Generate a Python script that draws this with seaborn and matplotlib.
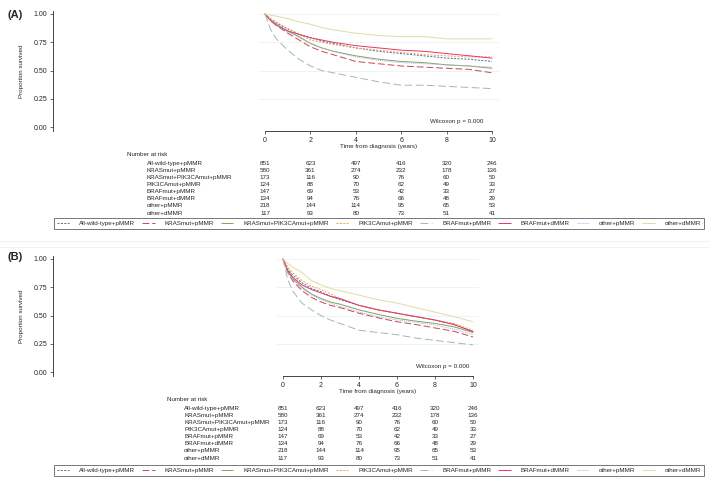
import numpy as np
import pandas as pd
import seaborn as sns
import matplotlib.pyplot as plt
from matplotlib.lines import Line2D

# groups and styles
groups = ["All-wild-type+pMMR", "KRASmut+pMMR", "KRASmut+PIK3CAmut+pMMR", "PIK3CAmut+pMMR",
          "BRAFmut+pMMR", "BRAFmut+dMMR", "other+pMMR", "other+dMMR"]
colors = ["#3f6fae", "#c9474f", "#7ea35c", "#f1a23a", "#9fbab2", "#e8346a", "#b3aee6", "#e3daa2"]
dash_styles = [(2, 1.5), (7, 3), "", (2, 1.5), (8, 3.5), "", (1, 1), ""]

# readings of the curves (years, proportion survived)
times = [0, 0.25, 0.5, 1, 1.5, 2, 2.5, 3, 4, 5, 6, 7, 8, 9, 10]

a_wild = [1, 0.95, 0.92, 0.87, 0.82, 0.79, 0.76, 0.74, 0.70, 0.67, 0.65, 0.63, 0.61, 0.60, 0.58]
a_kras = [1, 0.94, 0.90, 0.83, 0.77, 0.71, 0.67, 0.64, 0.58, 0.56, 0.54, 0.53, 0.52, 0.51, 0.48]
a_kras_pik = [1, 0.95, 0.91, 0.85, 0.80, 0.74, 0.70, 0.67, 0.63, 0.60, 0.58, 0.57, 0.55, 0.54, 0.52]
a_pik = [1, 0.96, 0.93, 0.87, 0.82, 0.77, 0.75, 0.73, 0.70, 0.68, 0.66, 0.64, 0.63, 0.62, 0.62]
a_braf_p = [1, 0.86, 0.78, 0.68, 0.60, 0.54, 0.50, 0.48, 0.44, 0.40, 0.37, 0.37, 0.36, 0.35, 0.34]
a_braf_d = [1, 0.94, 0.90, 0.85, 0.82, 0.79, 0.77, 0.75, 0.72, 0.70, 0.68, 0.67, 0.65, 0.63, 0.61]
a_other_p = [1, 0.95, 0.91, 0.84, 0.79, 0.74, 0.70, 0.67, 0.62, 0.59, 0.57, 0.56, 0.55, 0.54, 0.53]
a_other_d = [1, 0.99, 0.98, 0.96, 0.93, 0.91, 0.88, 0.86, 0.83, 0.81, 0.80, 0.80, 0.78, 0.78, 0.78]

b_wild = [1, 0.91, 0.86, 0.79, 0.74, 0.71, 0.67, 0.64, 0.59, 0.55, 0.52, 0.49, 0.46, 0.42, 0.36]
b_kras = [1, 0.88, 0.81, 0.72, 0.66, 0.62, 0.59, 0.57, 0.52, 0.48, 0.445, 0.42, 0.39, 0.36, 0.31]
b_kras_pik = [1, 0.89, 0.83, 0.75, 0.69, 0.65, 0.62, 0.60, 0.55, 0.51, 0.475, 0.45, 0.43, 0.40, 0.35]
b_pik = [1, 0.93, 0.88, 0.81, 0.76, 0.73, 0.69, 0.65, 0.59, 0.55, 0.52, 0.49, 0.46, 0.43, 0.37]
b_braf_p = [1, 0.82, 0.72, 0.61, 0.55, 0.50, 0.46, 0.43, 0.37, 0.35, 0.33, 0.30, 0.28, 0.26, 0.24]
b_braf_d = [1, 0.90, 0.84, 0.77, 0.73, 0.70, 0.67, 0.65, 0.59, 0.55, 0.52, 0.49, 0.46, 0.42, 0.357]
b_other_p = [1, 0.88, 0.82, 0.74, 0.68, 0.64, 0.61, 0.58, 0.53, 0.49, 0.46, 0.44, 0.415, 0.38, 0.33]
b_other_d = [1, 0.96, 0.93, 0.88, 0.81, 0.77, 0.74, 0.72, 0.68, 0.64, 0.61, 0.57, 0.53, 0.49, 0.445]

# number at risk table
risk_times = [0, 2, 4, 6, 8, 10]
risk_wild = [851, 623, 497, 416, 320, 246]
risk_kras = [580, 361, 274, 232, 178, 136]
risk_kras_pik = [173, 116, 90, 76, 60, 50]
risk_pik = [124, 88, 70, 62, 49, 33]
risk_braf_p = [147, 69, 53, 42, 33, 27]
risk_braf_d = [134, 94, 76, 66, 48, 29]
risk_other_p = [218, 144, 114, 95, 65, 53]
risk_other_d = [117, 93, 80, 73, 51, 41]
risk_rows = [risk_wild, risk_kras, risk_kras_pik, risk_pik, risk_braf_p, risk_braf_d, risk_other_p, risk_other_d]

surv_a = [a_wild, a_kras, a_kras_pik, a_pik, a_braf_p, a_braf_d, a_other_p, a_other_d]
surv_b = [b_wild, b_kras, b_kras_pik, b_pik, b_braf_p, b_braf_d, b_other_p, b_other_d]

sns.set_style("ticks")
plt.rcParams['font.family'] = ['Liberation Sans', 'DejaVu Sans']
fs = 4.5

W, H = 709, 488
fig = plt.figure(figsize=(W / 100, H / 100), dpi=100)


def make_df(surv):
    rows = []
    for g, vals in zip(groups, surv):
        for t, v in zip(times, vals):
            rows.append({"time": t, "surv": v, "group": g})
    return pd.DataFrame(rows)


def draw_panel(ax, surv, xmin, wil_x):
    for yv in [0.25, 0.5, 0.75, 1.0]:
        ax.plot([-0.3, 10.3], [yv, yv], color="#eef1f1", lw=0.6, zorder=0)
    df = make_df(surv)
    sns.lineplot(data=df, x="time", y="surv", hue="group", style="group",
                 palette=dict(zip(groups, colors)), dashes=dict(zip(groups, dash_styles)),
                 hue_order=groups, style_order=groups, linewidth=0.7, legend=False, ax=ax)
    ax.set_xlim(xmin, 10.3)
    ax.set_ylim(-0.035, 1.03)
    ax.set_xticks([0, 2, 4, 6, 8, 10])
    ax.set_yticks([0, 0.25, 0.5, 0.75, 1.0])
    ax.set_yticklabels(["0.00", "0.25", "0.50", "0.75", "1.00"])
    ax.tick_params(labelsize=5, length=2.5, width=0.5, pad=1.5, color="#333333")
    ax.spines["top"].set_visible(False)
    ax.spines["right"].set_visible(False)
    ax.spines["bottom"].set_bounds(0, 10)
    ax.spines["left"].set_linewidth(0.6)
    ax.spines["bottom"].set_linewidth(0.6)
    ax.set_xlabel("")
    ax.set_ylabel("Proportion survived", fontsize=fs, labelpad=7)
    tr = ax.get_xaxis_transform()
    ax.text(5, -0.125, "Time from diagnosis (years)", transform=tr, ha="center", va="center", fontsize=fs)
    ax.text(wil_x, 0.05, "Wilcoxon p = 0.000", ha="right", va="center", fontsize=fs)
    ax.text(-6.1, -0.199, "Number at risk", transform=tr, ha="left", va="center", fontsize=fs, clip_on=False)
    for i, (g, r) in enumerate(zip(groups, risk_rows)):
        yy = -0.266 - i * 0.0593
        ax.text(-5.2, yy, g, transform=tr, ha="left", va="center", fontsize=fs, clip_on=False)
        for t, n in zip(risk_times, r):
            ax.text(t, yy, str(n), transform=tr, ha="center", va="center", fontsize=fs, clip_on=False)


ax_a = fig.add_axes([53 / W, 1 - 131 / H, 445.8 / W, 120.4 / H])
draw_panel(ax_a, surv_a, -9.34, 9.6)
ax_b = fig.add_axes([53 / W, 1 - 376 / H, 425.7 / W, 120.4 / H])
draw_panel(ax_b, surv_b, -12.1, 9.8)

fig.text(7 / W, 1 - 15 / H, "(A)", fontsize=8, fontweight="bold", va="center", ha="left")
fig.text(7 / W, 1 - 257 / H, "(B)", fontsize=8, fontweight="bold", va="center", ha="left")

# faint separators between panels
for yp in [241, 247]:
    fig.add_artist(Line2D([0, 1], [1 - yp / H, 1 - yp / H], color="#f0f0f0", lw=0.6))

for top in [218, 465]:
    handles = [Line2D([], [], color=c, lw=0.7, dashes=d if d != "" else (1, 0))
               for c, d in zip(colors, dash_styles)]
    leg = fig.legend(handles, groups, loc="upper left", bbox_to_anchor=(54 / W, 1 - top / H),
                     ncol=8, fontsize=fs, frameon=True, fancybox=False,
                     handlelength=2.0, handletextpad=1.6, columnspacing=1.1,
                     borderpad=0.45, borderaxespad=0)
    leg.get_frame().set_edgecolor("#555555")
    leg.get_frame().set_linewidth(0.7)

fig.savefig("out.png", dpi=100)
